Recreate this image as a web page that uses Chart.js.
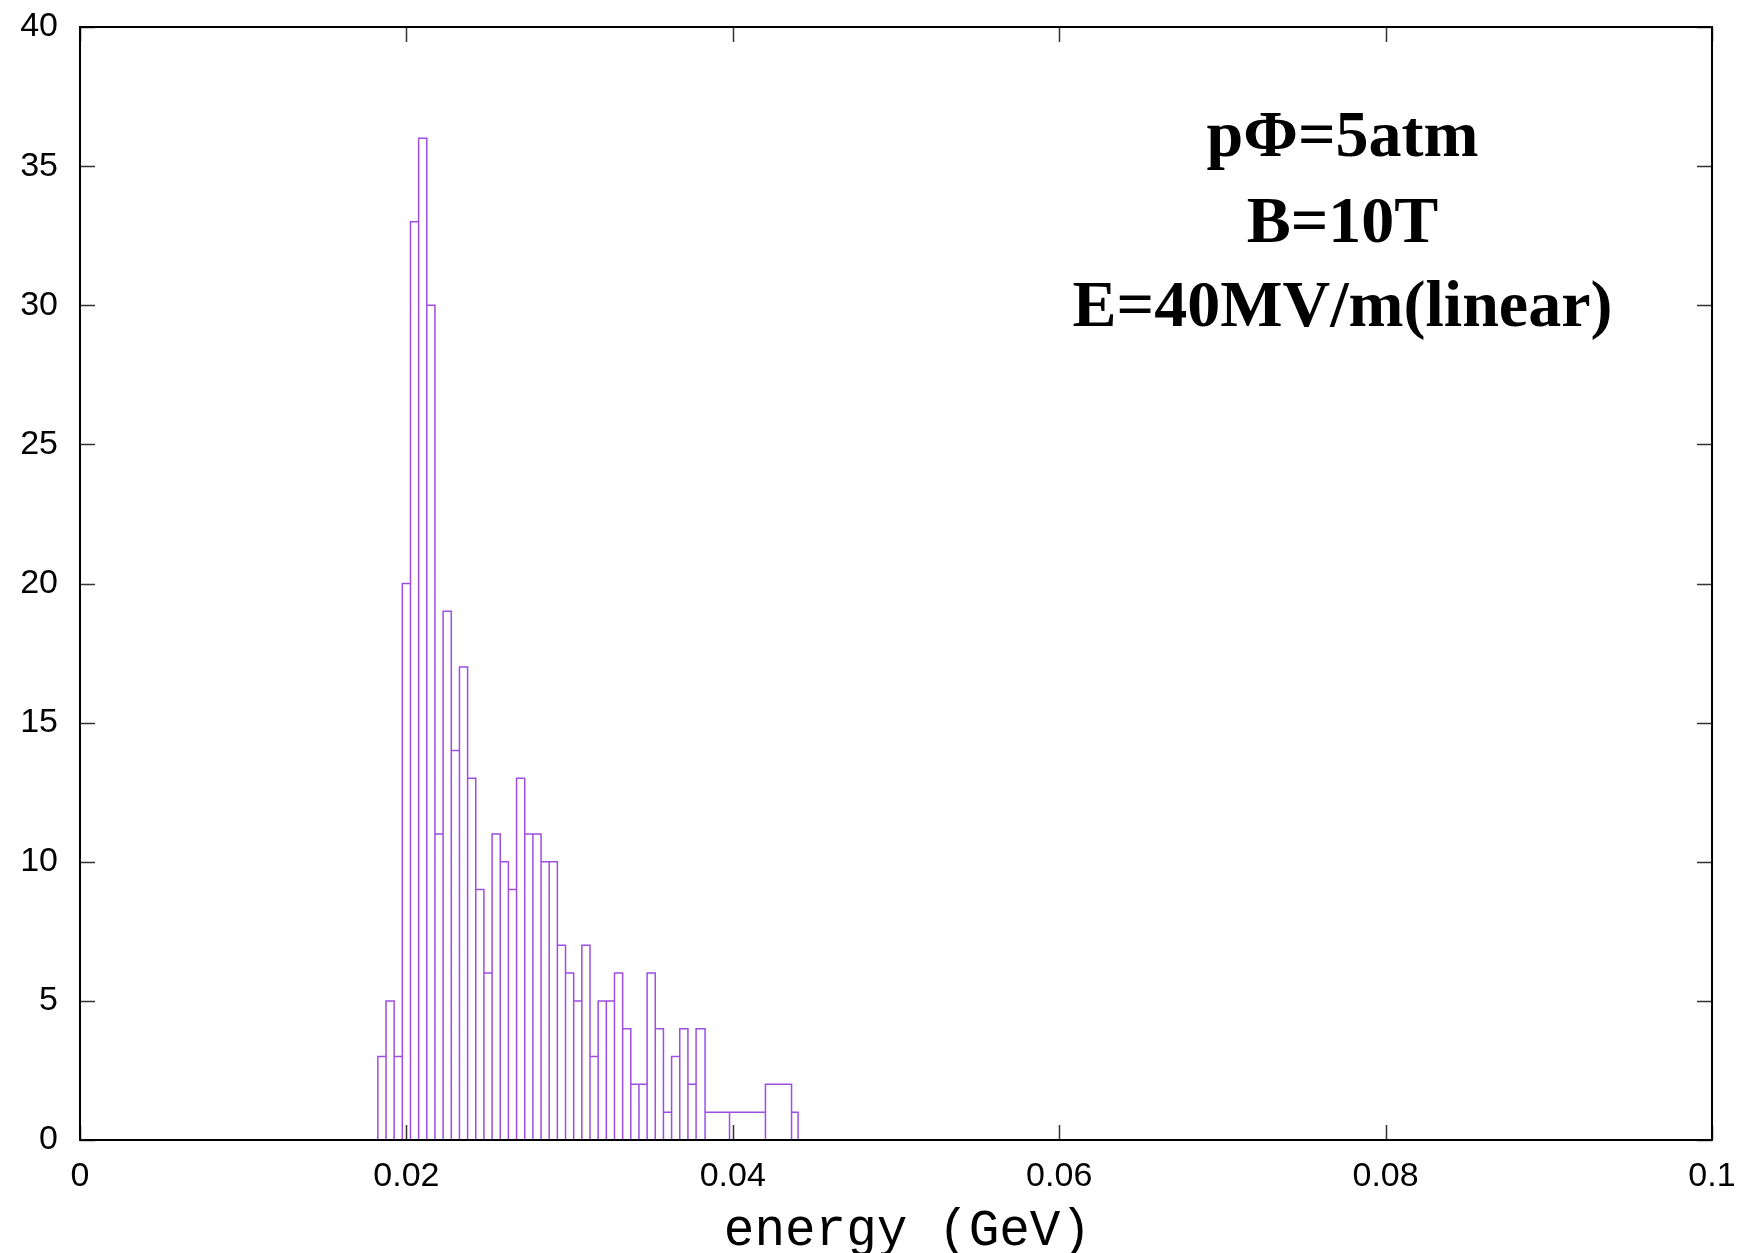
<!DOCTYPE html>
<html>
<head>
<meta charset="utf-8">
<script src="https://cdn.jsdelivr.net/npm/chart.js@4.4.1/dist/chart.umd.min.js"></script>
<style>
  html, body { margin: 0; padding: 0; background: #fff; }
</style>
</head>
<body>
<canvas id="energyHist" width="1744" height="1253"></canvas>
<script>
// histogram bins: edges (GeV) and counts per bin
const binEdges = [
  0.01825, 0.01875, 0.01925, 0.01975, 0.02025, 0.02075, 0.02125, 0.02175,
  0.02225, 0.02275, 0.02325, 0.02375, 0.02425, 0.02475, 0.02525, 0.02575,
  0.02625, 0.02675, 0.02725, 0.02775, 0.02825, 0.02875, 0.02925, 0.02975,
  0.03025, 0.03075, 0.03125, 0.03175, 0.03225, 0.03275, 0.03325, 0.03375,
  0.03425, 0.03475, 0.03525, 0.03575, 0.03625, 0.03675, 0.03725, 0.03775,
  0.0383, 0.0398, 0.0420, 0.0436, 0.0440
];
const binCounts = [
  3, 5, 3, 20, 33, 36, 30, 11, 19, 14, 17, 13, 9, 6, 11, 10,
  9, 13, 11, 11, 10, 10, 7, 6, 5, 7, 3, 5, 5, 6, 4, 2,
  2, 6, 4, 1, 3, 4, 2, 4,
  1, 1, 2, 1
];
const xTicks = [0, 0.02, 0.04, 0.06, 0.08, 0.1];
const yTicks = [0, 5, 10, 15, 20, 25, 30, 35, 40];
const xTitle = 'energy (GeV)';
const noteLines = ['pΦ=5atm', 'B=10T', 'E=40MV/m(linear)'];

// outline of every box, gnuplot "with boxes" style
const outline = [];
binCounts.forEach((c, i) => {
  outline.push({ x: binEdges[i], y: 0 });
  outline.push({ x: binEdges[i], y: c });
  outline.push({ x: binEdges[i + 1], y: c });
  outline.push({ x: binEdges[i + 1], y: 0 });
});

const framePlugin = {
  id: 'frame',
  afterDatasetsDraw(chart) {
    const { ctx, chartArea: a, scales: { x, y } } = chart;
    ctx.save();
    // inward ticks on all four sides
    ctx.strokeStyle = '#333';
    ctx.lineWidth = 1.5;
    const len = 15;
    ctx.beginPath();
    xTicks.forEach(v => {
      const px = Math.round(x.getPixelForValue(v)) + 0.5;
      ctx.moveTo(px, a.bottom); ctx.lineTo(px, a.bottom - len);
      ctx.moveTo(px, a.top); ctx.lineTo(px, a.top + len);
    });
    yTicks.forEach(v => {
      const py = Math.round(y.getPixelForValue(v)) + 0.5;
      ctx.moveTo(a.left, py); ctx.lineTo(a.left + len, py);
      ctx.moveTo(a.right, py); ctx.lineTo(a.right - len, py);
    });
    ctx.stroke();
    // border
    ctx.strokeStyle = '#000';
    ctx.lineWidth = 2;
    ctx.strokeRect(a.left, a.top, a.right - a.left, a.bottom - a.top);
    // annotation
    ctx.fillStyle = '#000';
    ctx.font = 'bold 66px "Liberation Serif", "DejaVu Serif", serif';
    ctx.textAlign = 'center';
    ctx.textBaseline = 'alphabetic';
    const cx = x.getPixelForValue(0.07736);
    [35.36, 32.26, 29.25].forEach((yv, i) => {
      ctx.fillText(noteLines[i], cx, y.getPixelForValue(yv));
    });
    // x axis title (sits a little right of centre in the original)
    ctx.font = '51px "Liberation Mono", "DejaVu Sans Mono", monospace';
    ctx.fillText(xTitle, x.getPixelForValue(0.0507), 1245);
    ctx.restore();
  }
};

const ctx = document.getElementById('energyHist').getContext('2d');
new Chart(ctx, {
  type: 'scatter',
  data: {
    datasets: [{
      data: outline,
      showLine: true,
      borderColor: 'rgb(158, 78, 228)',
      borderWidth: 1.5,
      pointRadius: 0,
      fill: false,
      tension: 0
    }]
  },
  options: {
    responsive: false,
    animation: false,
    layout: { padding: { top: 27, right: 32, left: 0, bottom: 0 } },
    plugins: {
      legend: { display: false },
      tooltip: { enabled: false }
    },
    scales: {
      x: {
        type: 'linear',
        min: 0,
        max: 0.1,
        afterBuildTicks: s => { s.ticks = xTicks.map(v => ({ value: v })); },
        afterFit: s => { s.height = 113; s.paddingLeft = 0; s.paddingRight = 0; },
        grid: { display: false, drawTicks: false },
        border: { display: false },
        ticks: {
          padding: 16,
          color: '#000',
          maxRotation: 0,
          autoSkip: false,
          font: { family: '"Liberation Sans", Arial, sans-serif', size: 34 },
          callback: v => String(+v.toFixed(2))
        }
      },
      y: {
        type: 'linear',
        min: 0,
        max: 40,
        afterBuildTicks: s => { s.ticks = yTicks.map(v => ({ value: v })); },
        afterFit: s => { s.width = 80; s.paddingTop = 0; s.paddingBottom = 0; },
        grid: { display: false, drawTicks: false },
        border: { display: false },
        ticks: {
          padding: 22,
          color: '#000',
          font: { family: '"Liberation Sans", Arial, sans-serif', size: 34 }
        }
      }
    }
  },
  plugins: [framePlugin]
});
</script>
</body>
</html>
